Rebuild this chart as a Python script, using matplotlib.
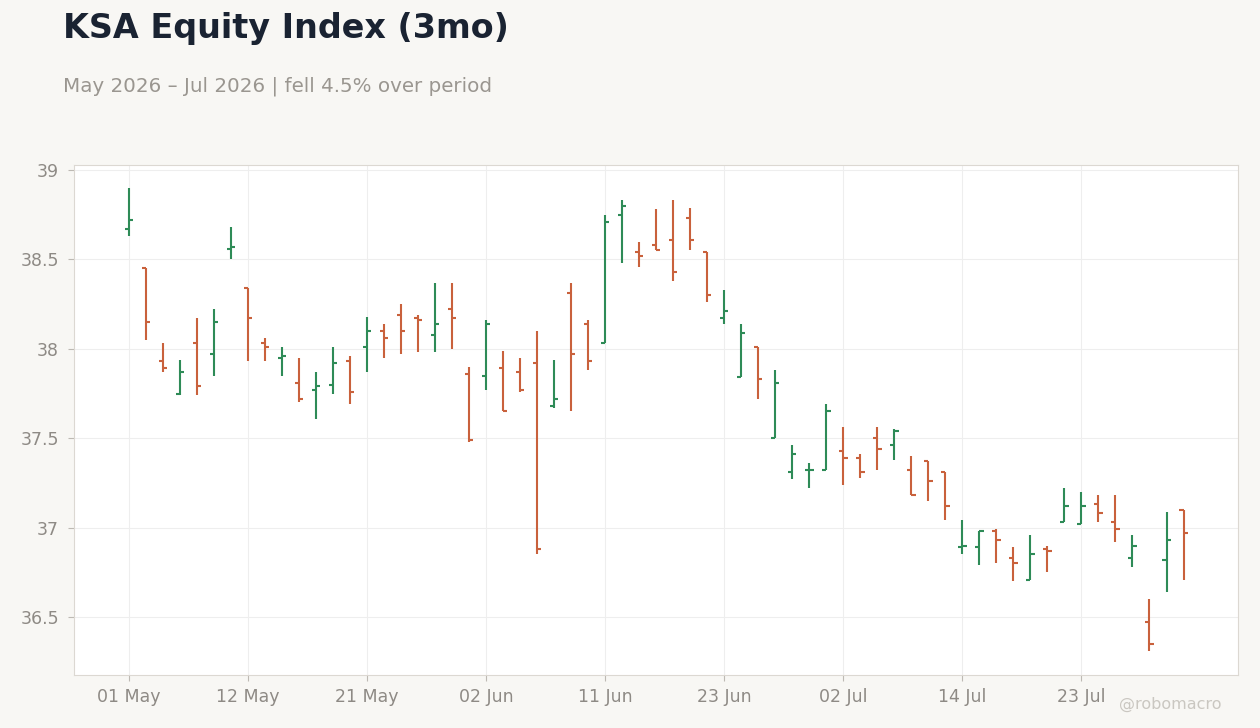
import matplotlib.pyplot as plt
import pandas as pd

# Trading days (US calendar, holidays dropped)
HOLIDAYS = ["2026-05-25", "2026-06-19", "2026-07-03"]
dates = pd.bdate_range("2026-05-01", "2026-07-31")
dates = dates[~dates.isin(pd.to_datetime(HOLIDAYS))]

opens = [38.67, 38.45, 37.93, 37.75, 38.03, 37.97, 38.56, 38.34, 38.03, 37.95,
         37.81, 37.77, 37.80, 37.93, 38.01, 38.10, 38.19, 38.17, 38.08, 38.22,
         37.86, 37.85, 37.89, 37.87, 37.92, 37.68, 38.31, 38.14, 38.03, 38.75,
         38.54, 38.58, 38.61, 38.73, 38.54, 38.17, 37.84, 38.01, 37.50, 37.31,
         37.32, 37.32, 37.43, 37.39, 37.50, 37.46, 37.32, 37.37, 37.31, 36.89,
         36.89, 36.98, 36.83, 36.71, 36.88, 37.03, 37.02, 37.13, 37.03, 36.83,
         36.47, 36.82, 37.10]
highs = [38.90, 38.45, 38.03, 37.94, 38.17, 38.22, 38.68, 38.34, 38.06, 38.01,
         37.95, 37.87, 38.01, 37.96, 38.18, 38.14, 38.25, 38.19, 38.37, 38.37,
         37.90, 38.16, 37.99, 37.95, 38.10, 37.94, 38.37, 38.16, 38.75, 38.83,
         38.60, 38.78, 38.83, 38.79, 38.54, 38.33, 38.14, 38.01, 37.88, 37.46,
         37.36, 37.69, 37.56, 37.41, 37.56, 37.55, 37.40, 37.37, 37.31, 37.04,
         36.98, 36.99, 36.89, 36.96, 36.90, 37.22, 37.20, 37.18, 37.18, 36.96,
         36.60, 37.09, 37.10]
lows = [38.63, 38.05, 37.87, 37.74, 37.74, 37.85, 38.50, 37.93, 37.93, 37.85,
        37.70, 37.61, 37.75, 37.69, 37.87, 37.95, 37.97, 37.98, 37.98, 38.00,
        37.48, 37.77, 37.65, 37.76, 36.85, 37.67, 37.65, 37.88, 38.03, 38.48,
        38.46, 38.55, 38.38, 38.55, 38.26, 38.14, 37.84, 37.72, 37.50, 37.27,
        37.22, 37.32, 37.24, 37.28, 37.32, 37.38, 37.18, 37.15, 37.04, 36.85,
        36.79, 36.80, 36.70, 36.71, 36.75, 37.03, 37.02, 37.03, 36.92, 36.78,
        36.31, 36.64, 36.71]
closes = [38.72, 38.15, 37.89, 37.87, 37.79, 38.15, 38.57, 38.17, 38.01, 37.96,
          37.72, 37.79, 37.92, 37.76, 38.10, 38.06, 38.10, 38.16, 38.14, 38.17,
          37.49, 38.14, 37.65, 37.77, 36.88, 37.72, 37.97, 37.93, 38.71, 38.80,
          38.52, 38.55, 38.43, 38.61, 38.30, 38.21, 38.09, 37.83, 37.81, 37.41,
          37.32, 37.65, 37.39, 37.31, 37.44, 37.54, 37.18, 37.26, 37.12, 36.90,
          36.98, 36.93, 36.80, 36.85, 36.87, 37.12, 37.12, 37.08, 36.99, 36.90,
          36.35, 36.93, 36.97]

UP = "#2e8b57"
DOWN = "#c9613c"
BG = "#f8f7f4"
GREY = "#8e8a85"


def draw_ohlc(ax):
	x = list(range(len(opens)))
	colors = [UP if c >= o else DOWN for o, c in zip(opens, closes)]
	ax.vlines(x, lows, highs, colors=colors, linewidth=1.5)
	ax.hlines(opens, [i - 0.25 for i in x], x, colors=colors, linewidth=1.5)
	ax.hlines(closes, x, [i + 0.25 for i in x], colors=colors, linewidth=1.5)


def main():
	fig = plt.figure(figsize=(12.6, 7.28), dpi=100, facecolor=BG)
	ax = fig.add_axes([0.059, 0.0728, 0.9235, 0.7006])
	ax.set_facecolor("white")

	draw_ohlc(ax)

	ax.set_xlim(-3.2, 65.2)
	ax.set_ylim(36.176, 39.028)
	ticks = list(range(0, len(dates), 7))
	ax.set_xticks(ticks)
	ax.set_xticklabels([dates[i].strftime("%d %b") for i in ticks])
	ax.set_yticks([36.5, 37, 37.5, 38, 38.5, 39])
	ax.set_yticklabels(["36.5", "37", "37.5", "38", "38.5", "39"])

	ax.grid(True, color="#eeeeee", linewidth=0.8)
	ax.set_axisbelow(True)
	for s in ax.spines.values():
		s.set_color("#dcd8d2")
	ax.tick_params(colors="#bdb9b3", labelcolor=GREY, labelsize=12.5, length=4)
	ax.tick_params(axis="x", pad=5)
	ax.tick_params(axis="y", pad=7)

	fig.text(0.05, 0.9615, "KSA Equity Index (3mo)", fontsize=24, fontweight="bold",
		color="#1a2332", va="center")
	fig.text(0.05, 0.882, "May 2026 \u2013 Jul 2026 | fell 4.5% over period", fontsize=14.3,
		color="#9a9690", va="center")
	fig.text(0.9285, 0.032, "@robomacro", fontsize=11.5, color="#cac7c1", ha="center", va="center")

	fig.savefig("out.png", dpi=100, facecolor=BG)


if __name__ == '__main__':
	main()
